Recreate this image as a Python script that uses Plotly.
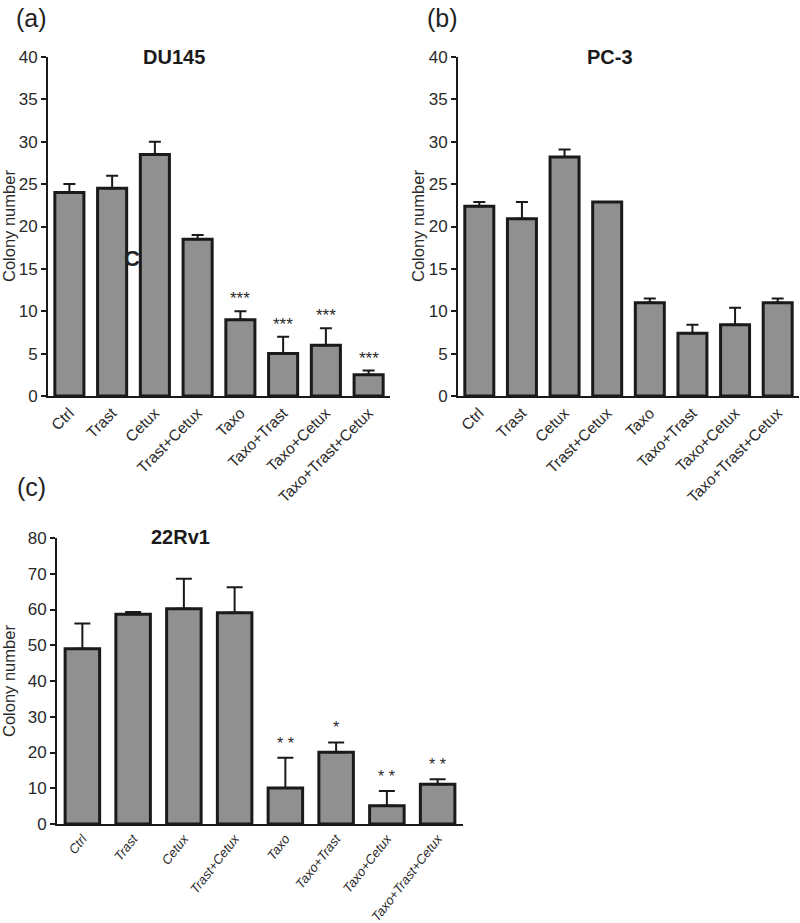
import plotly.graph_objects as go

W, H = 800, 923

categories = ["Ctrl", "Trast", "Cetux", "Trast+Cetux", "Taxo", "Taxo+Trast", "Taxo+Cetux", "Taxo+Trast+Cetux"]

du145_values = [24.0, 24.5, 28.5, 18.5, 9.0, 5.0, 6.0, 2.5]
du145_errors = [1.0, 1.5, 1.5, 0.5, 1.0, 2.0, 2.0, 0.5]
du145_stars = ["", "", "", "", "***", "***", "***", "***"]

pc3_values = [22.4, 20.9, 28.2, 22.9, 11.0, 7.4, 8.4, 11.0]
pc3_errors = [0.5, 2.0, 0.9, 0.0, 0.5, 1.0, 2.0, 0.5]

rv1_values = [49.0, 58.7, 60.2, 59.1, 10.1, 20.1, 5.1, 11.1]
rv1_errors = [7.1, 0.6, 8.4, 7.1, 8.4, 2.7, 4.1, 1.4]
rv1_stars = ["", "", "", "", "* *", "*", "* *", "* *"]

FILL = "#909090"
EDGE = "#1a1a1a"
FONT = "Liberation Sans, Arial, sans-serif"
TXT = "#2a2a2a"


def px_x(p):
    return p / W


def px_y(p):
    return 1 - p / H


def bar_trace(vals, errs, xa, ya, capw):
    return go.Bar(
        x=categories, y=vals, xaxis=xa, yaxis=ya,
        width=0.68,
        marker=dict(color=FILL, line=dict(color=EDGE, width=3)),
        error_y=dict(type="data", symmetric=False, array=errs,
                     arrayminus=[0] * len(errs), color=EDGE, thickness=2, width=capw),
        showlegend=False, hoverinfo="skip",
    )


fig = go.Figure()
fig.add_trace(bar_trace(du145_values, du145_errors, "x", "y", 6))
fig.add_trace(bar_trace(pc3_values, pc3_errors, "x2", "y2", 6))
fig.add_trace(bar_trace(rv1_values, rv1_errors, "x3", "y3", 8))


def xaxis(dom, anchor, size, angle, italic=False):
    return dict(
        domain=dom, anchor=anchor, type="category", range=[-0.5, 7.5],
        showline=True, linecolor=EDGE, linewidth=2, ticks="", showgrid=False,
        tickangle=angle, zeroline=False, automargin=False,
        tickfont=dict(family=FONT, size=size, color=TXT,
                      style="italic" if italic else "normal"),
    )


def yaxis(dom, anchor, rng, dtick):
    return dict(
        domain=dom, anchor=anchor, range=rng, dtick=dtick,
        showline=True, linecolor=EDGE, linewidth=2, ticks="outside",
        ticklen=5, tickwidth=1.5, tickcolor=EDGE, showgrid=False, zeroline=False,
        automargin=False,
        tickfont=dict(family=FONT, size=17, color=TXT),
    )


fig.update_layout(
    width=W, height=H,
    margin=dict(l=0, r=0, t=0, b=0),
    paper_bgcolor="white", plot_bgcolor="white",
    bargap=0.3,
    xaxis=xaxis([px_x(48), px_x(390)], "y", 15.5, -45),
    yaxis=yaxis([px_y(396), px_y(57)], "x", [0, 40], 5),
    xaxis2=xaxis([px_x(458), px_x(799)], "y2", 15.5, -45),
    yaxis2=yaxis([px_y(396), px_y(57)], "x2", [0, 40], 5),
    xaxis3=xaxis([px_x(57), px_x(463)], "y3", 13, -52, italic=True),
    yaxis3=yaxis([px_y(824), px_y(538)], "x3", [0, 80], 10),
)

ann = []
# significance stars
for cat, v, e, s in zip(categories, du145_values, du145_errors, du145_stars):
    if s:
        ann.append(dict(x=cat, y=v + e, xref="x", yref="y", text=s, showarrow=False,
                        yanchor="bottom", yshift=1, font=dict(family=FONT, size=17, color=TXT)))
for cat, v, e, s in zip(categories, rv1_values, rv1_errors, rv1_stars):
    if s:
        ann.append(dict(x=cat, y=v + e, xref="x3", yref="y3", text=s, showarrow=False,
                        yanchor="bottom", yshift=4, font=dict(family=FONT, size=16, color=TXT)))

# y-axis titles
for x, y in [(9, 226), (418, 226), (9, 681)]:
    ann.append(dict(x=px_x(x), y=px_y(y), xref="paper", yref="paper", text="Colony number",
                    textangle=-90, showarrow=False, xanchor="center", yanchor="middle",
                    font=dict(family=FONT, size=16.5, color=TXT)))

# titles
for text, x, y in [("DU145", 174, 57), ("PC-3", 610, 57), ("22Rv1", 180, 537)]:
    ann.append(dict(x=px_x(x), y=px_y(y), xref="paper", yref="paper", text="<b>" + text + "</b>",
                    showarrow=False, xanchor="center", yanchor="middle",
                    font=dict(family=FONT, size=20, color="#1a1a1a")))

# panel letters
for text, x, y in [("(a)", 31, 18), ("(b)", 442, 18), ("(c)", 31, 487)]:
    ann.append(dict(x=px_x(x), y=px_y(y), xref="paper", yref="paper", text=text,
                    showarrow=False, xanchor="center", yanchor="middle",
                    font=dict(family=FONT, size=25, color="#222222")))

# stray glyph visible in the source image
ann.append(dict(x=px_x(132), y=px_y(258), xref="paper", yref="paper", text="<b>C</b>",
                showarrow=False, xanchor="center", yanchor="middle",
                font=dict(family=FONT, size=22, color="#222222")))

fig.update_layout(annotations=ann)
fig.write_html("out.html", config={"displayModeBar": False},
               post_script="document.body.style.margin='0px';")
